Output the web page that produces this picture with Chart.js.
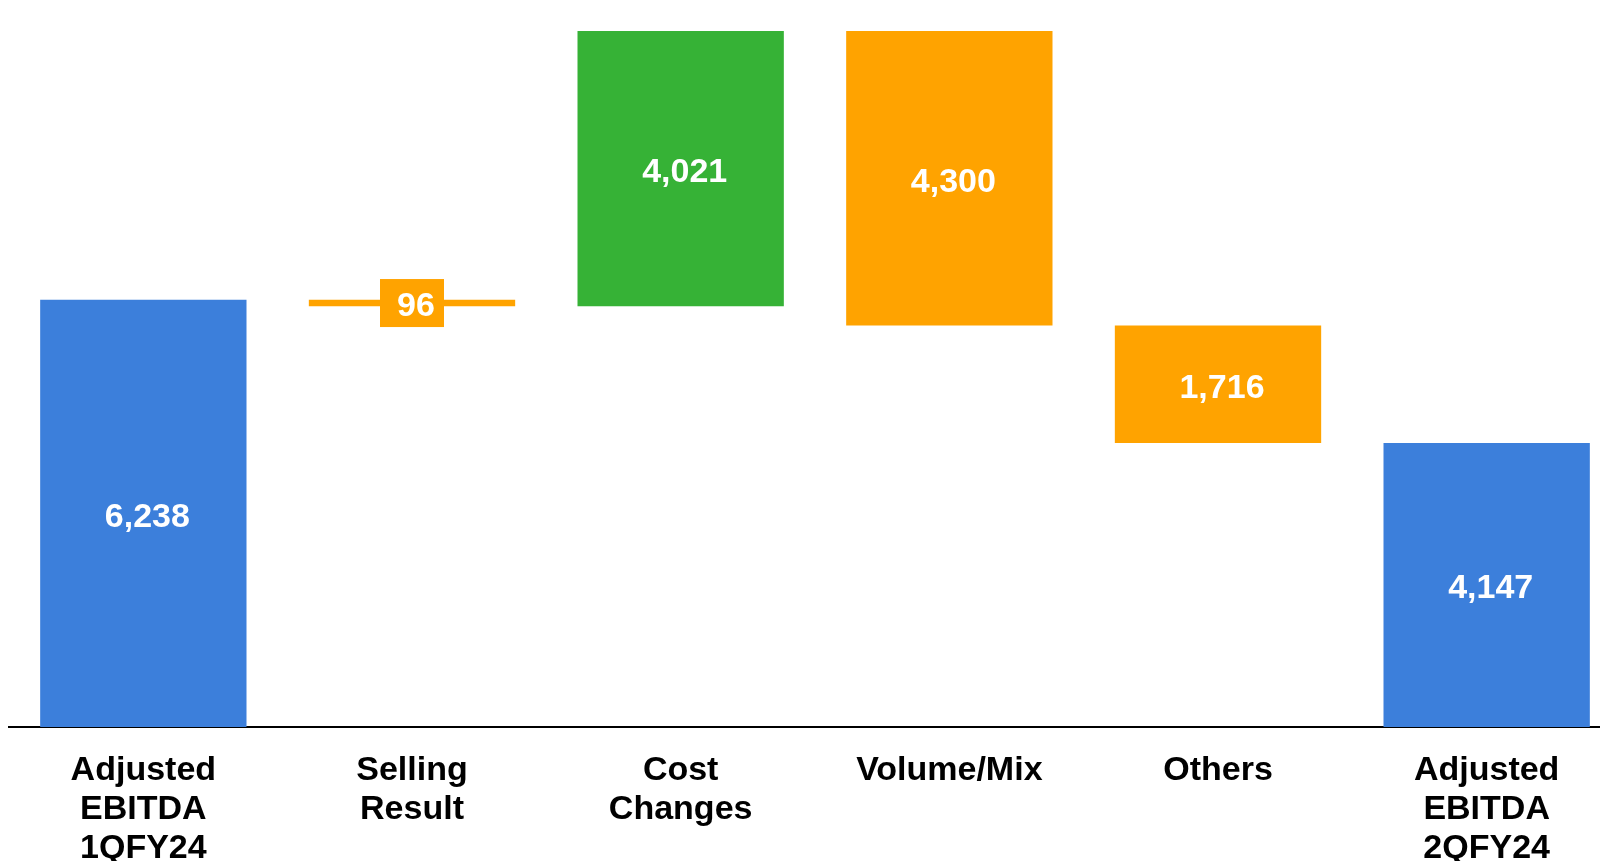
<!DOCTYPE html>
<html>
<head>
<meta charset="utf-8">
<script src="https://cdn.jsdelivr.net/npm/chart.js@4"></script>
<style>
  html, body { margin: 0; padding: 0; background: #fff; overflow: hidden; }
  #wrap { position: relative; width: 1622px; height: 861px; }
</style>
</head>
<body>
<div id="wrap"><canvas id="c"></canvas></div>
<script>
// ---- data ----
const categories = [
  ['Adjusted', 'EBITDA', '1QFY24'],
  ['Selling', 'Result'],
  ['Cost', 'Changes'],
  'Volume/Mix',
  'Others',
  ['Adjusted', 'EBITDA', '2QFY24']
];
const stepValues = [6238, -96, 4021, -4300, -1716, 4147];
const stepTypes = ['total', 'delta', 'delta', 'delta', 'delta', 'total'];
const valueLabels = ['6,238', '96', '4,021', '4,300', '1,716', '4,147'];

// ---- build floating ranges ----
const COL_TOTAL = '#3C7FDB', COL_UP = '#36B236', COL_DOWN = '#FFA300';
let running = 0;
const ranges = [], colors = [];
stepValues.forEach((v, i) => {
  if (stepTypes[i] === 'total') {
    ranges.push([0, v]); running = v; colors.push(COL_TOTAL);
  } else {
    ranges.push([running, running + v]); running += v;
    colors.push(v >= 0 ? COL_UP : COL_DOWN);
  }
});

const FONT = "'Liberation Sans', Arial, Helvetica, sans-serif";

const labelPlugin = {
  id: 'valueLabels',
  afterDatasetsDraw(chart) {
    const ctx = chart.ctx;
    const meta = chart.getDatasetMeta(0);
    ctx.save();
    meta.data.forEach((bar, i) => {
      const cx = bar.x;
      const cy = (bar.y + bar.base) / 2;
      if (Math.abs(bar.base - bar.y) < 20) {
        ctx.fillStyle = colors[i];
        ctx.fillRect(cx - 32, cy - 24, 64, 48);
      }
      ctx.fillStyle = '#ffffff';
      ctx.font = 'bold 34px ' + FONT;
      ctx.textAlign = 'center';
      ctx.textBaseline = 'middle';
      ctx.fillText(valueLabels[i], cx + 4, cy + 4);
    });
    ctx.restore();
  }
};

new Chart(document.getElementById('c'), {
  type: 'bar',
  data: {
    labels: categories,
    datasets: [{
      data: ranges,
      backgroundColor: colors,
      borderWidth: 0,
      borderSkipped: false,
      barPercentage: 0.768,
      categoryPercentage: 1.0
    }]
  },
  options: {
    responsive: true,
    maintainAspectRatio: false,
    animation: false,
    layout: { padding: { left: 9, right: 1, top: 1, bottom: 0 } },
    plugins: { legend: { display: false }, tooltip: { enabled: false } },
    scales: {
      x: {
        grid: { display: false, drawTicks: false },
        border: { display: true, color: '#000000', width: 2 },
        ticks: {
          color: '#000000',
          padding: 24,
          maxRotation: 0,
          autoSkip: false,
          font: { family: FONT, size: 34, weight: 'bold', lineHeight: 1.15 }
        },
        afterFit(scale) { scale.height = 134; }
      },
      y: {
        display: false,
        min: 0,
        max: 10600
      }
    }
  },
  plugins: [labelPlugin]
});
</script>
</body>
</html>
